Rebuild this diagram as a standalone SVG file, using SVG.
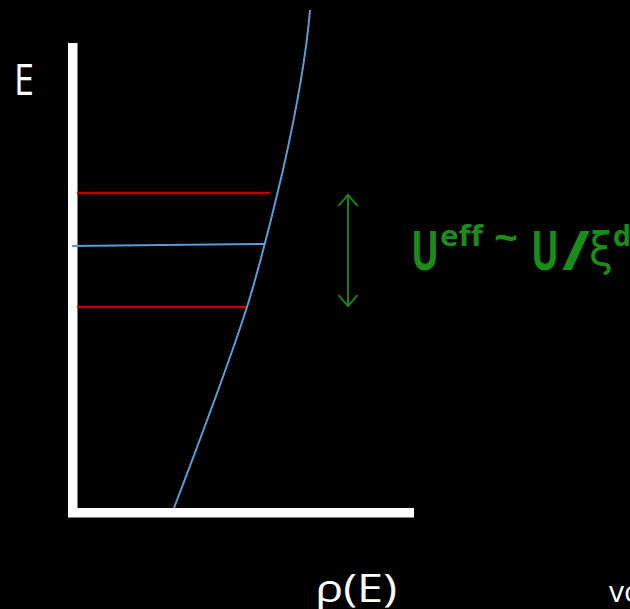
<svg xmlns="http://www.w3.org/2000/svg" width="630" height="609" viewBox="0 0 630 609">
<defs>
<style>
.lbl{font-family:"Open Sans","Liberation Sans",sans-serif;fill:#ffffff}
.g{font-family:"Open Sans","Liberation Sans",sans-serif;fill:#1a8c1a;font-weight:bold}
.red{stroke:#c00000;stroke-width:2.5;fill:none}
.blue{stroke:#5b9bd5;stroke-width:2;fill:none}
</style>
<marker id="ah" viewBox="0 0 20 20" refX="18" refY="10" markerWidth="20" markerHeight="20" markerUnits="userSpaceOnUse" orient="auto-start-reverse">
<path d="M7,0.5 L18,10 L7,19.5" fill="none" stroke="#1a8c1a" stroke-width="1.8"/>
</marker>
</defs>
<rect width="630" height="609" fill="#000"/>
<g id="axes">
<rect x="68" y="43" width="9.5" height="474" fill="#fff"/>
<rect x="68" y="508" width="346" height="9.5" fill="#fff"/>
</g>
<g id="levels">
<line class="red" x1="77" y1="193" x2="270" y2="193"/>
<line class="red" x1="77" y1="307" x2="247" y2="307"/>
<line class="blue" x1="72" y1="246" x2="264" y2="244"/>
</g>
<g id="dos-curve">
<path class="blue" d="M174,508 C200,440 230,360 247,307 C258,272 270,225 283,170 C292,130 305,70 310,10"/>
</g>
<g id="connectors">
<line x1="348" y1="195" x2="348" y2="306" stroke="#1a8c1a" stroke-width="1.8" marker-start="url(#ah)" marker-end="url(#ah)"/>
</g>
<g id="labels">
<text class="lbl" x="14" y="95" font-size="44" textLength="20" lengthAdjust="spacingAndGlyphs">E</text>
<text class="lbl" x="315" y="602" font-size="38" textLength="82" lengthAdjust="spacingAndGlyphs">ρ(E)</text>
<text class="lbl" x="609" y="602" font-size="30">vo</text>
</g>
<g id="ueff-label">
<text class="g" x="411" y="270" font-size="54" textLength="28" lengthAdjust="spacingAndGlyphs">U</text>
<text class="g" x="440" y="246" font-size="28" textLength="43" lengthAdjust="spacingAndGlyphs">eff</text>
<text class="g" x="494" y="252" font-size="40" textLength="24" lengthAdjust="spacingAndGlyphs">~</text>
<text class="g" x="531" y="270" font-size="54" textLength="28" lengthAdjust="spacingAndGlyphs">U</text>
<text class="g" x="562" y="270" font-size="54" textLength="28" lengthAdjust="spacingAndGlyphs">/</text>
<text x="589" y="265" font-size="46" fill="#1a8c1a" font-family="'DejaVu Sans',sans-serif" font-weight="normal" textLength="24" lengthAdjust="spacingAndGlyphs">ξ</text>
<text class="g" x="613" y="246" font-size="28" textLength="18" lengthAdjust="spacingAndGlyphs">d</text>
</g>
</svg>
